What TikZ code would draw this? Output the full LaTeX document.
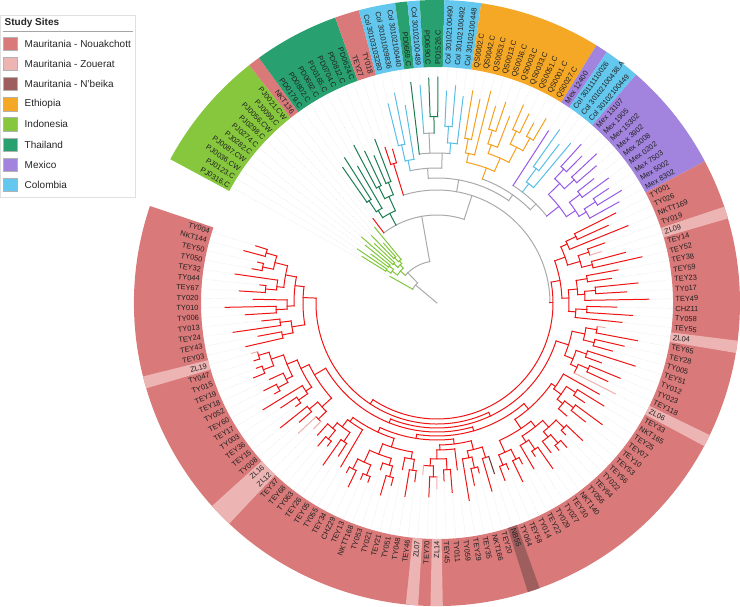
\documentclass[tikz,border=0pt]{standalone}
\usepackage{fontspec}
\setmainfont{Liberation Sans}
\definecolor{cNouF}{RGB}{217,121,121}
\definecolor{cZouF}{RGB}{237,180,180}
\definecolor{cNbeF}{RGB}{158,94,94}
\definecolor{cEthF}{RGB}{245,167,38}
\definecolor{cIndF}{RGB}{134,199,62}
\definecolor{cThaF}{RGB}{40,160,112}
\definecolor{cMexF}{RGB}{162,132,222}
\definecolor{cColF}{RGB}{100,200,238}
\definecolor{cRedL}{RGB}{240,20,20}
\definecolor{cZouL}{RGB}{242,175,175}
\definecolor{cNbeL}{RGB}{110,50,50}
\definecolor{cEthL}{RGB}{245,160,30}
\definecolor{cIndL}{RGB}{130,200,60}
\definecolor{cThaL}{RGB}{30,125,80}
\definecolor{cMexL}{RGB}{150,90,230}
\definecolor{cColL}{RGB}{90,190,230}
\definecolor{cGreyL}{RGB}{170,170,170}
\def\leafR{{54,88,96,82,92,100,86,94,80,98,106,165,172,158,178,168,160,175,164,160,205,214,200,222,218,225,226,212,218,208,215,208,218,205,212,200,216,210,204,214,205,212,200,208,214,206,218,210,200,212,206,216,208,200,188,206,178,172,195,210,184,176,202,190,212,180,196,186,170,204,192,182,208,175,198,188,200,186,196,178,205,190,172,200,184,194,168,188,202,176,192,182,198,170,190,180,196,174,186,200,168,190,178,186,194,172,180,196,170,188,200,176,192,184,204,174,190,182,198,168,186,178,176,190,182,200,172,188,204,178,194,184,198,170,190,180,196,182,206,176,192,212,184,198,174,204,188,180,200,190}}
\def\setleafc#1#2{\def\leafc{#2}%
 \ifnum#1=57 \def\leafc{cZouL}\fi
 \ifnum#1=68 \def\leafc{cZouL}\fi
 \ifnum#1=76 \def\leafc{cZouL}\fi
 \ifnum#1=103 \def\leafc{cZouL}\fi
 \ifnum#1=105 \def\leafc{cZouL}\fi
 \ifnum#1=122 \def\leafc{cZouL}\fi
 \ifnum#1=123 \def\leafc{cZouL}\fi
 \ifnum#1=135 \def\leafc{cZouL}\fi
 \ifnum#1=95 \def\leafc{cNbeL}\fi}
\def\mktree#1#2#3#4#5{%
 \begingroup
 \ifnum#1=#2\relax
  \pgfmathsetmacro\tA{150.5-2.3356*#1}%
  \pgfmathsetmacro\rT{\leafR[#1]}%
  \pgfmathsetmacro\rL{max(\rT,#3+6)}%
  \setleafc{#1}{#4}%
  \draw[guide] (\tA:\rL pt) -- (\tA:235pt);
  \draw[br,color=\leafc] (\tA:#3pt) -- (\tA:\rL pt);
 \else
  \pgfmathtruncatemacro\nn{#2-#1+1}%
  \pgfmathtruncatemacro\mm{mod(3*#1+#2,4)}%
  \pgfmathtruncatemacro\kk{#1-1+(\mm==1 ? floor(\nn/3) : (\mm==3 ? floor(2*\nn/3) : floor(\nn/2)))}%
  \ifnum\nn<7 \ifnum\mm=1 \edef\kk{#1}\fi\ifnum\mm=2 \edef\kk{\the\numexpr#2-1\relax}\fi\fi
  \pgfmathtruncatemacro\kk{max(#1,min(#2-1,\kk))}%
  \pgfmathsetmacro\rr{#3+#5*(5+2*mod(7*#1+3*#2,5))}%
  \pgfmathsetmacro\tM{150.5-2.3356*(#1+#2)/2}%
  \pgfmathsetmacro\tL{150.5-2.3356*(#1+\kk)/2}%
  \pgfmathsetmacro\tR{150.5-2.3356*(\kk+1+#2)/2}%
  \draw[br,color=#4] (\tM:#3pt) -- (\tM:\rr pt);
  \draw[br,color=#4] (\tL:\rr pt) arc[start angle=\tL, end angle=\tR, radius=\rr pt];
  \edef\mynext{\noexpand\mktree{#1}{\kk}{\rr}{#4}{#5}\noexpand\mktree{\the\numexpr\kk+1\relax}{#2}{\rr}{#4}{#5}}%
  \mynext
 \fi
 \endgroup}
\newcommand\bnode[6]{\draw[br,color=#6] (#1:#2pt) -- (#1:#3pt);
 \draw[br,color=#6] (#4:#3pt) arc[start angle=#4, end angle=#5, radius=#3pt];}
\newcommand\ringsec[3]{%
 \pgfmathsetmacro\aS{150.5-2.3356*#1+1.1678}%
 \pgfmathsetmacro\aE{150.5-2.3356*#2-1.1678}%
 \fill[#3] (\aS:236pt) arc[start angle=\aS, end angle=\aE, radius=236pt] -- (\aE:303pt) arc[start angle=\aE, end angle=\aS, radius=303pt] -- cycle;}
\begin{document}
\begin{tikzpicture}[x=1pt,y=1pt,
  br/.style={line width=1pt, line cap=rect},
  guide/.style={black!10, line width=0.4pt, dash pattern=on 0.8pt off 1.2pt},
  lbl/.style={font=\fontsize{7.4}{8}\selectfont, text=black!88, inner sep=0.4pt},
  legtxt/.style={anchor=west, font=\fontsize{10}{12}\selectfont, text=black!85, inner sep=0.5pt}]
\useasboundingbox (-437,-304) rectangle (303,303);
\fill[white] (-437,-304) rectangle (303,303);
% ring
\ringsec{0}{9}{cIndF}
\ringsec{10}{10}{cNouF}
\ringsec{11}{17}{cThaF}
\ringsec{18}{19}{cNouF}
\ringsec{20}{22}{cColF}
\ringsec{23}{23}{cThaF}
\ringsec{24}{24}{cColF}
\ringsec{25}{26}{cThaF}
\ringsec{27}{29}{cColF}
\ringsec{30}{39}{cEthF}
\ringsec{40}{40}{cMexF}
\ringsec{41}{43}{cColF}
\ringsec{44}{52}{cMexF}
\ringsec{53}{149}{cNouF}
\ringsec{57}{57}{cZouF}
\ringsec{68}{68}{cZouF}
\ringsec{76}{76}{cZouF}
\ringsec{95}{95}{cNbeF}
\ringsec{103}{103}{cZouF}
\ringsec{105}{105}{cZouF}
\ringsec{122}{123}{cZouF}
\ringsec{135}{135}{cZouF}
% labels
\foreach \lab [count=\i from 0] in {PJ0316.C,PJ0123.C,PJ0036.CW,PJ0087.CW,PJ0282.C,PJ0274.C,PJ0298.C,PJ0056.CW,PJ0099.C,PJ0021.CW,NKT136,PD0179.C,PD0802.C,PD0692.C,PD0165.C,PD0704.C,PD0812.C,PD0624.C,TEY27,TY018,Col 30103103280,Col 30101009836,Col 30102100440,PD0669.C,Col 30102100489,PD0690.C,PD1526.C,Col 30102100490,Col 30102100492,Col 30102100448,QS0002.C,QS0042.C,QS0053.C,QS0013.C,QS0016.C,QS0003.C,QS0033.C,QS0051.C,QS0001.C,QS0027.C,Mex 12400,Col 30111110026,Col 30102100438.A,Col 30102100449,Mex 13107,Mex 1905,Mex 15302,Mex 3902,Mex 2008,Mex 0202,Mex 7503,Mex 5002,Mex 8302,TY001,TY026,NKTT169,TY019,ZL09,TEY14,TEY52,TEY38,TEY59,TEY23,TY017,TEY49,CHZ11,TY058,TEY55,ZL04,TEY65,TEY28,TY005,TEY51,TY012,TY023,TEY118,ZL06,TEY33,NKT165,TEY25,TEY07,TEY10,TEY53,TEY56,TY022,TEY64,TY056,NKT140,TEY30,TY027,TY029,TEY22,TY014,TEY58,TY064,NB55,TEY20,NKT166,TEY35,TEY29,TY059,TY011,TEY45,ZL14,TEY70,ZL07,TEY46,TY048,TY051,TEY21,TY021,TY053,NKTT168,TEY13,CHZ29,TEY34,TY055,TEY05,TEY26,TY063,TEY68,TEY37,ZL12,ZL16,TY008,TEY15,TEY36,TY003,TEY17,TEY60,TY052,TEY18,TEY19,TY015,TY047,ZL19,TEY03,TEY43,TEY24,TY013,TY006,TY010,TY020,TEY67,TY044,TEY32,TY050,TEY50,NKT144,TY004}{%
  \pgfmathsetmacro\ta{150.5-2.3356*\i}%
  \ifdim\ta pt>90pt
    \pgfmathsetmacro\rot{\ta-180}%
    \node[lbl,anchor=east,rotate=\rot] (L\i) at (\ta:238pt) {\lab};
  \else\ifdim\ta pt<-90pt
    \pgfmathsetmacro\rot{\ta+180}%
    \node[lbl,anchor=east,rotate=\rot] (L\i) at (\ta:238pt) {\lab};
  \else
    \node[lbl,anchor=west,rotate=\ta] (L\i) at (\ta:238pt) {\lab};
  \fi\fi
}
% tree: top part
\bnode{140}{0}{28}{150.5}{134}{cGreyL}
\mktree{0}{0}{28}{cIndL}{1}
\bnode{134}{28}{42}{138.82}{100}{cGreyL}
\mktree{1}{9}{42}{cIndL}{0.5}
\bnode{100}{42}{88}{127.14}{72}{cGreyL}
\mktree{10}{10}{88}{cRedL}{1}
\mktree{11}{17}{88}{cThaL}{1.2}
\bnode{72}{88}{113}{107.29}{0}{cGreyL}
\mktree{18}{19}{113}{cRedL}{3}
\bnode{80}{113}{125}{94}{55}{cGreyL}
\bnode{94}{125}{135}{101.45}{88}{cGreyL}
\mktree{20}{22}{135}{cColL}{1.5}
\bnode{88}{135}{150}{96.78}{85.10}{cGreyL}
\mktree{23}{23}{150}{cThaL}{1}
\mktree{27}{29}{150}{cColL}{1.5}
\bnode{92.7}{150}{170}{94.45}{90.94}{cGreyL}
\mktree{24}{24}{170}{cColL}{1}
\mktree{25}{26}{170}{cThaL}{1.5}
\bnode{55}{125}{132}{69.92}{45}{cGreyL}
\mktree{30}{39}{132}{cEthL}{1.3}
\bnode{45}{132}{140}{57.08}{38.39}{cGreyL}
\mktree{40}{40}{140}{cMexL}{1}
\mktree{41}{43}{140}{cColL}{1.5}
\mktree{44}{52}{140}{cMexL}{1.2}
% Mauritania clade
\bnode{0}{113}{116}{10.36}{-123.5}{cRedL}
\bnode{-123.5}{116}{121}{-64.7}{-182.32}{cRedL}
\bnode{-64.7}{121}{125}{-17.66}{-111.8}{cRedL}
\bnode{-111.8}{125}{129}{-74}{-149.62}{cRedL}
\bnode{-74}{129}{133}{-49.19}{-98.8}{cRedL}
\bnode{-98.8}{133}{137}{-83.06}{-114.59}{cRedL}
\mktree{53}{67}{116}{cRedL}{1}
\mktree{136}{149}{121}{cRedL}{1}
\mktree{68}{76}{125}{cRedL}{1}
\mktree{122}{135}{129}{cRedL}{1}
\mktree{77}{94}{133}{cRedL}{1}
\mktree{95}{105}{137}{cRedL}{1}
\mktree{106}{121}{137}{cRedL}{1}
% legend
\draw[black!12, line width=0.5pt] (-436.5,288) rectangle (-302,106);
\node[anchor=west, font=\bfseries\fontsize{10}{12}\selectfont, text=black!85, inner sep=0.5pt] (legtitle) at (-433,280.5) {Study Sites};
\draw[black!35, line width=0.6pt] (-434,271.5) -- (-304,271.5);
\foreach \c/\t [count=\k from 0] in {cNouF/Mauritania - Nouakchott, cZouF/Mauritania - Zouerat, cNbeF/Mauritania - N'beika, cEthF/Ethiopia, cIndF/Indonesia, cThaF/Thailand, cMexF/Mexico, cColF/Colombia}{%
  \pgfmathsetmacro\yy{303-43.5-20.2*\k}%
  \node[draw=black!30, fill=\c, minimum size=13.5pt, inner sep=0pt] (sw\k) at (-427,\yy) {};
  \node[legtxt] (lt\k) at (-413,\yy) {\t};
}
\end{tikzpicture}
\end{document}
